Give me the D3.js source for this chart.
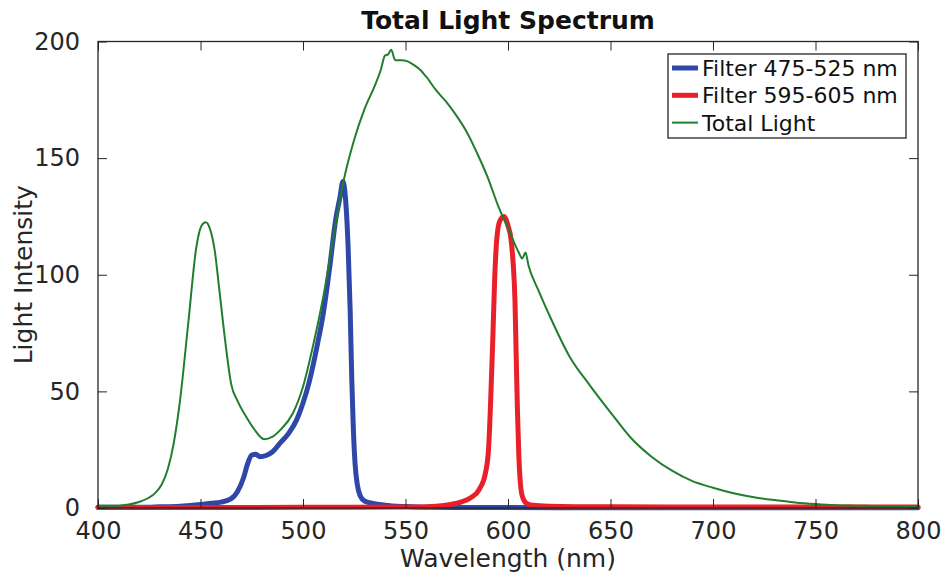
<!DOCTYPE html>
<html>
<head>
<meta charset="utf-8">
<script src="https://cdn.jsdelivr.net/npm/d3@7/dist/d3.min.js"></script>
<style>
  body { margin: 0; background: #fff; }
  svg { display: block; font-family: "DejaVu Sans", sans-serif; }
</style>
</head>
<body>
<script>
// ---- data ----
var xTicks = [400, 450, 500, 550, 600, 650, 700, 750, 800];
var yTicks = [0, 50, 100, 150, 200];

var totalNm  = [400, 405, 410, 415, 420, 425, 428, 431, 434, 437, 440, 444, 448, 450.5, 452.5, 454.5, 457, 459, 462, 465, 468, 472, 476, 481, 485, 489, 495, 500, 505, 510, 515, 520, 525, 530, 535, 538, 540, 541.5, 543, 545, 548, 551, 554, 557, 560, 565, 570, 575, 580, 585, 590, 595, 600, 605, 607, 608.5, 610, 615, 620, 630, 640, 650, 660, 670, 680, 690, 700, 710, 720, 730, 740, 750, 760, 770, 780, 790, 800];
var totalVal = [1, 1, 1, 1.5, 2.6, 4.5, 6.5, 10, 16.5, 28, 46, 79, 112, 121, 122.5, 120, 110, 95, 72, 53, 46, 39.5, 34, 29.5, 30.5, 33.5, 40.5, 52, 70, 91, 117, 141, 158, 171, 181, 188, 194, 194.5, 196.5, 192, 192, 191.5, 190, 188, 185, 179, 174, 168, 161, 152, 142, 130, 120, 110, 107, 109.5, 104, 93, 83, 65, 52.5, 41, 30, 22, 16, 11.5, 8.7, 6.3, 4.6, 3.4, 2.4, 1.7, 1.2, 1, 0.8, 0.7, 0.7];

var blueNm  = [400, 420, 430, 440, 450, 455, 460, 465, 468, 471, 473, 475, 477, 479, 482, 485, 489, 493, 497, 500, 503, 507, 510, 513, 516, 518, 519.5, 520.5, 522, 523, 523.8, 524.6, 525.4, 526.5, 528, 530, 534, 540, 550, 560, 580, 600, 650, 800];
var blueVal = [0.3, 0.3, 0.5, 0.8, 1.5, 2, 2.5, 4, 7, 13, 19, 22.7, 23, 22, 22.5, 24, 28, 32, 38, 45, 54, 70, 84, 103, 124, 133, 140, 135, 112, 85, 55, 33, 19, 10, 5, 3, 2, 1.2, 0.6, 0.3, 0.2, 0.2, 0.1, 0.1];

var redNm  = [400, 450, 500, 550, 565, 572, 577, 582, 586, 589, 590.5, 591.5, 592.5, 593.5, 594.5, 596, 598, 600, 601.5, 602.5, 603.4, 604, 604.6, 605.3, 606, 607, 609, 612, 620, 650, 700, 800];
var redVal = [0.2, 0.2, 0.3, 0.4, 0.8, 1.5, 2.5, 4.5, 8, 15, 25, 45, 70, 98, 115, 123, 125, 121, 115, 105, 89, 65, 42, 22, 11, 5, 2, 1.2, 0.8, 0.5, 0.4, 0.4];

var seriesNames  = ['Filter 475-525 nm', 'Filter 595-605 nm', 'Total Light'];
var seriesColors = ['#2f48a8', '#e8202a', '#1f7f2e'];
var seriesWidths = [5, 5, 2];

// ---- layout ----
var W = 945, H = 575;
var plotL = 98, plotR = 918, plotT = 41.5, plotB = 508;
var axisColor = '#262626';

var svg = d3.select('body').append('svg').attr('width', W).attr('height', H);

var x = d3.scaleLinear().domain([400, 800]).range([plotL, plotR]);
var y = d3.scaleLinear().domain([0, 200]).range([plotB, plotT]);

var series = [
  { name: seriesNames[0], nm: blueNm, val: blueVal },
  { name: seriesNames[1], nm: redNm, val: redVal },
  { name: seriesNames[2], nm: totalNm, val: totalVal }
];

var line = d3.line()
  .x(function (d) { return x(d[0]); })
  .y(function (d) { return y(d[1]); })
  .curve(d3.curveMonotoneX);

svg.append('g').selectAll('path').data(series).enter().append('path')
  .attr('d', function (s) { return line(d3.zip(s.nm, s.val)); })
  .attr('fill', 'none')
  .attr('stroke', function (s, i) { return seriesColors[i]; })
  .attr('stroke-width', function (s, i) { return seriesWidths[i]; })
  .attr('stroke-linejoin', 'round')
  .attr('stroke-linecap', 'round');

// ---- axes (ticks point inward, box round the plot) ----
function styleAxis(g) {
  g.select('.domain').remove();
  g.selectAll('.tick line').attr('stroke', axisColor).attr('stroke-width', 1);
  g.selectAll('.tick text').attr('fill', axisColor).style('font-size', '24px')
    .style('font-family', '"DejaVu Sans", sans-serif');
}

svg.append('g').attr('transform', 'translate(0,' + plotB + ')')
  .call(d3.axisBottom(x).tickValues(xTicks).tickSize(-9).tickPadding(14))
  .call(styleAxis);
svg.append('g').attr('transform', 'translate(0,' + plotT + ')')
  .call(d3.axisTop(x).tickValues(xTicks).tickSize(-9).tickFormat(''))
  .call(styleAxis);
svg.append('g').attr('transform', 'translate(' + plotL + ',0)')
  .call(d3.axisLeft(y).tickValues(yTicks).tickSize(-9).tickPadding(18))
  .call(styleAxis);
svg.append('g').attr('transform', 'translate(' + plotR + ',0)')
  .call(d3.axisRight(y).tickValues(yTicks).tickSize(-9).tickFormat(''))
  .call(styleAxis);

svg.append('rect')
  .attr('x', plotL).attr('y', plotT)
  .attr('width', plotR - plotL).attr('height', plotB - plotT)
  .attr('fill', 'none').attr('stroke', axisColor).attr('stroke-width', 1.3);

// ---- texts ----
svg.append('text')
  .attr('x', (plotL + plotR) / 2).attr('y', 29)
  .attr('text-anchor', 'middle')
  .style('font-size', '25px').style('font-weight', 'bold')
  .attr('fill', '#111')
  .text('Total Light Spectrum');

svg.append('text')
  .attr('x', (plotL + plotR) / 2).attr('y', 567)
  .attr('text-anchor', 'middle')
  .style('font-size', '25px')
  .attr('fill', axisColor)
  .text('Wavelength (nm)');

svg.append('text')
  .attr('transform', 'translate(32,' + ((plotT + plotB) / 2) + ') rotate(-90)')
  .attr('text-anchor', 'middle')
  .style('font-size', '25px')
  .attr('fill', axisColor)
  .text('Light Intensity');

// ---- legend ----
var lg = svg.append('g').attr('transform', 'translate(668,54)');
lg.append('rect')
  .attr('width', 238).attr('height', 84)
  .attr('fill', '#fff').attr('stroke', axisColor).attr('stroke-width', 1.3);

var item = lg.selectAll('g.item').data(series).enter().append('g')
  .attr('class', 'item')
  .attr('transform', function (s, i) { return 'translate(0,' + (14 + i * 27.3) + ')'; });
item.append('line')
  .attr('x1', 4).attr('x2', 30)
  .attr('stroke', function (s, i) { return seriesColors[i]; })
  .attr('stroke-width', function (s, i) { return seriesWidths[i]; });
item.append('text')
  .attr('x', 34).attr('dy', '0.36em')
  .style('font-size', '22px')
  .attr('fill', '#111')
  .text(function (s) { return s.name; });
</script>
</body>
</html>
